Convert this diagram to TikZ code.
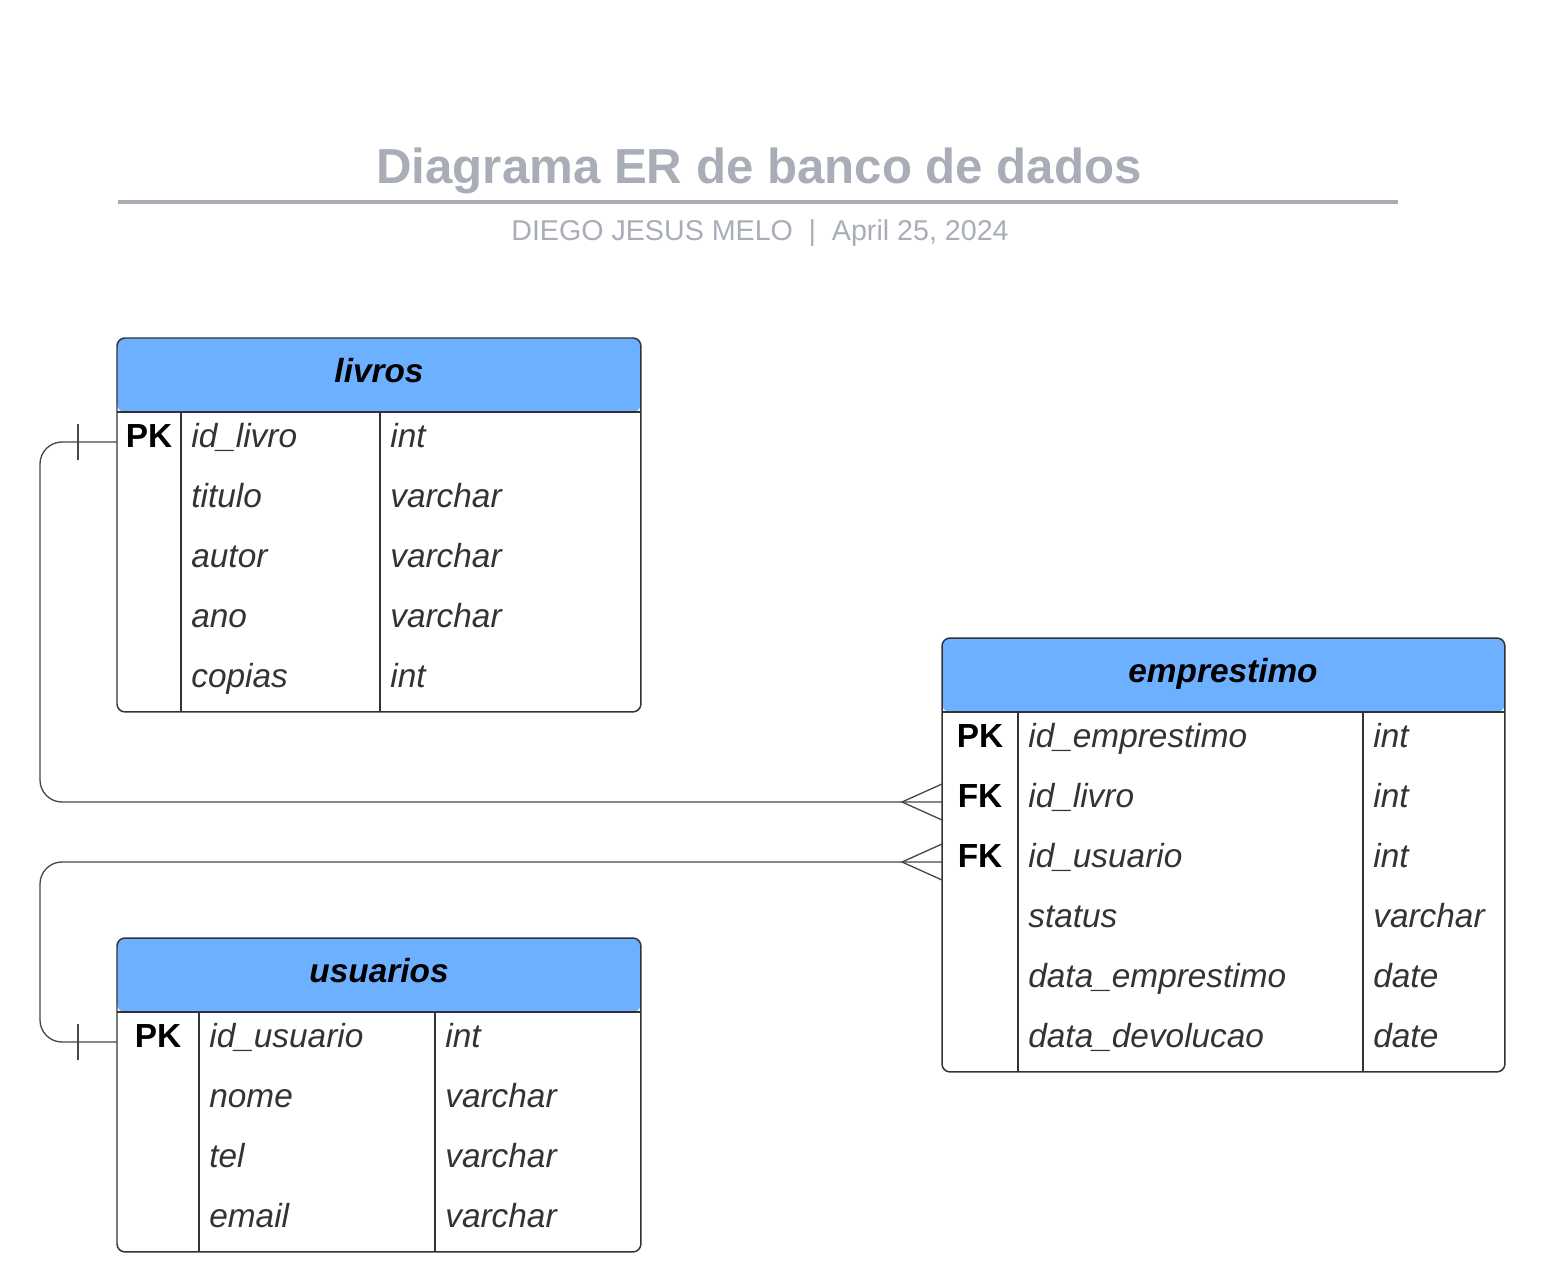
\documentclass[tikz,border=0pt]{standalone}
\usepackage{fontspec}
\setmainfont{Liberation Sans}
\usepackage{tikz}
\usetikzlibrary{positioning, calc}
\definecolor{headblue}{RGB}{108, 176, 255}
\definecolor{titlegray}{RGB}{168, 173, 184}
\definecolor{linegray}{RGB}{51, 51, 51}
\definecolor{textgray}{RGB}{51, 51, 51}

\begin{document}
\begin{tikzpicture}[
  x=0.02cm, y=-0.02cm,
  title/.style    = {anchor=base, text=titlegray,
                     font=\fontsize{28}{32}\selectfont\bfseries},
  subtitle/.style = {anchor=base, text=titlegray,
                     font=\fontsize{16.3}{20}\selectfont},
  tablebox/.style = {rectangle, draw=linegray, line width=0.85pt, fill=white,
                     rounded corners=0.16cm, anchor=north west,
                     inner sep=0pt, outer sep=0pt,
                     path picture={
                       \fill[headblue] (path picture bounding box.north west)
                         rectangle ([yshift=-1.48cm]path picture bounding box.north east);
                       \draw[linegray, line width=0.85pt]
                         ([yshift=-1.48cm]path picture bounding box.north west)
                         -- ([yshift=-1.48cm]path picture bounding box.north east);}},
  tabletitle/.style = {anchor=base, font=\fontsize{19}{23}\selectfont\bfseries\itshape},
  keycell/.style  = {rectangle, anchor=west, inner sep=0pt, outer sep=0pt,
                     minimum height=1.2cm, text height=0.72em, text depth=0.1em,
                     font=\fontsize{19}{23}\selectfont\bfseries},
  field/.style    = {anchor=west, inner sep=0pt, text=textgray,
                     text height=0.72em, text depth=0.1em,
                     font=\fontsize{19}{23}\selectfont\itshape},
  colline/.style  = {draw=linegray, line width=0.85pt},
  rel/.style      = {draw=linegray!90, line width=0.75pt, rounded corners=0.44cm},
  endmark/.style  = {draw=linegray!90, line width=0.75pt, sharp corners},
]
  \useasboundingbox (0,0) rectangle (1545,1277);

  % Title
  \node[title] (title) at (759,184) {Diagrama ER de banco de dados};
  \draw[titlegray, line width=2.1pt] (118,202) -- (1398,202);
  \node[subtitle] (subtitle) at (760,241)
    {DIEGO JESUS MELO\hspace{0.55em}|\hspace{0.55em}April 25, 2024};

  % livros
  \node[tablebox, minimum width=10.48cm, minimum height=7.48cm] (livros) at (117,338) {};
  \node[tabletitle] (livros-title) at (379,382) {livros};
  \draw[colline] (181,412) -- (181,712);
  \draw[colline] (380,412) -- (380,712);
  \node[keycell, minimum width=1.28cm] (livros-pk) at (117,442) {PK};
  \node[field] (livros-n1) at (191,442) {id\_livro};
  \node[field] (livros-n2) at (191,502) {titulo};
  \node[field] (livros-n3) at (191,562) {autor};
  \node[field] (livros-n4) at (191,622) {ano};
  \node[field] (livros-n5) at (191,682) {copias};
  \node[field] (livros-t1) at (390,442) {int};
  \node[field] (livros-t2) at (390,502) {varchar};
  \node[field] (livros-t3) at (390,562) {varchar};
  \node[field] (livros-t4) at (390,622) {varchar};
  \node[field] (livros-t5) at (390,682) {int};

  % emprestimo
  \node[tablebox, minimum width=11.26cm, minimum height=8.68cm] (emp) at (942,638) {};
  \node[tabletitle] (emp-title) at (1223,682) {emprestimo};
  \draw[colline] (1018,712) -- (1018,1072);
  \draw[colline] (1363,712) -- (1363,1072);
  \node[keycell, minimum width=1.52cm] (emp-pk)  at (942,742) {PK};
  \node[keycell, minimum width=1.52cm] (emp-fk1) at (942,802) {FK};
  \node[keycell, minimum width=1.52cm] (emp-fk2) at (942,862) {FK};
  \node[field] (emp-n1) at (1028,742)  {id\_emprestimo};
  \node[field] (emp-n2) at (1028,802)  {id\_livro};
  \node[field] (emp-n3) at (1028,862)  {id\_usuario};
  \node[field] (emp-n4) at (1028,922)  {status};
  \node[field] (emp-n5) at (1028,982)  {data\_emprestimo};
  \node[field] (emp-n6) at (1028,1042) {data\_devolucao};
  \node[field] (emp-t1) at (1373,742)  {int};
  \node[field] (emp-t2) at (1373,802)  {int};
  \node[field] (emp-t3) at (1373,862)  {int};
  \node[field] (emp-t4) at (1373,922)  {varchar};
  \node[field] (emp-t5) at (1373,982)  {date};
  \node[field] (emp-t6) at (1373,1042) {date};

  % usuarios
  \node[tablebox, minimum width=10.48cm, minimum height=6.28cm] (usu) at (117,938) {};
  \node[tabletitle] (usu-title) at (379,982) {usuarios};
  \draw[colline] (199,1012) -- (199,1252);
  \draw[colline] (435,1012) -- (435,1252);
  \node[keycell, minimum width=1.64cm] (usu-pk) at (117,1042) {PK};
  \node[field] (usu-n1) at (209,1042) {id\_usuario};
  \node[field] (usu-n2) at (209,1102) {nome};
  \node[field] (usu-n3) at (209,1162) {tel};
  \node[field] (usu-n4) at (209,1222) {email};
  \node[field] (usu-t1) at (445,1042) {int};
  \node[field] (usu-t2) at (445,1102) {varchar};
  \node[field] (usu-t3) at (445,1162) {varchar};
  \node[field] (usu-t4) at (445,1222) {varchar};

  % Relationships
  \draw[rel] (livros-pk.west) -- ++(-77,0) |- (emp-fk1.west);
  \draw[rel] (usu-pk.west) -- ++(-77,0) |- (emp-fk2.west);

  % one (bar) ends
  \draw[endmark] ($(livros-pk.west)+(-39,-18)$) -- ($(livros-pk.west)+(-39,18)$);
  \draw[endmark] ($(usu-pk.west)+(-39,-18)$) -- ($(usu-pk.west)+(-39,18)$);

  % many (crow's foot) ends
  \draw[endmark] ($(emp-fk1.west)+(0,-18)$) -- ($(emp-fk1.west)+(-40,0)$) -- ($(emp-fk1.west)+(0,18)$);
  \draw[endmark] ($(emp-fk2.west)+(0,-18)$) -- ($(emp-fk2.west)+(-40,0)$) -- ($(emp-fk2.west)+(0,18)$);
\end{tikzpicture}
\end{document}
